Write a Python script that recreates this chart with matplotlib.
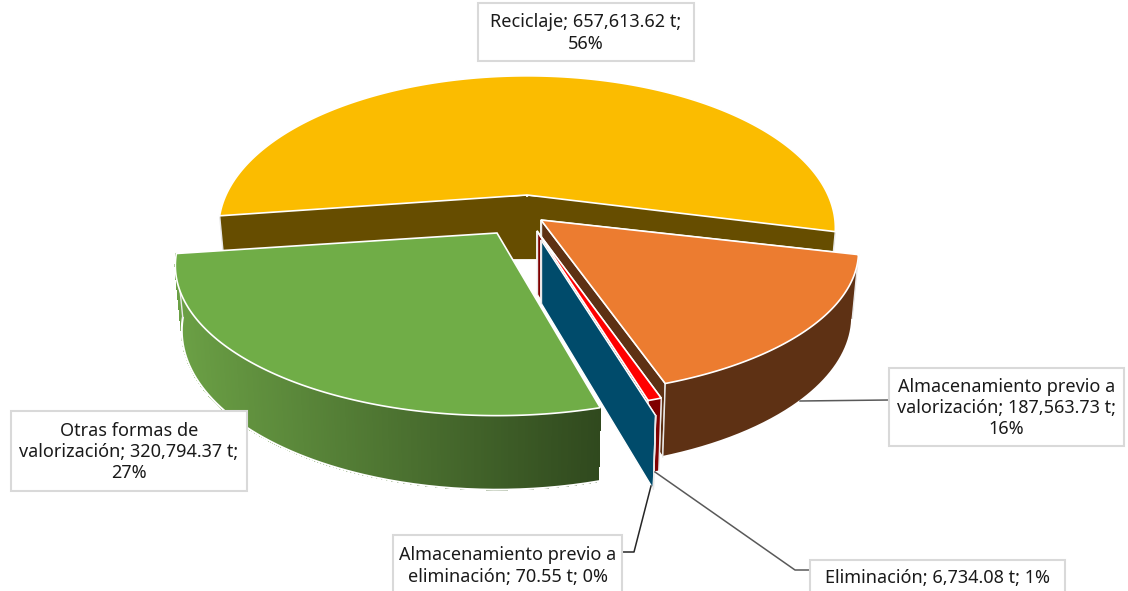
import numpy as np
import matplotlib
matplotlib.use("Agg")
import matplotlib.pyplot as plt
from matplotlib.patches import Polygon, Rectangle
from matplotlib.collections import PolyCollection
from matplotlib.colors import to_rgb

# datos
categorias = ["Reciclaje", "Almacenamiento previo a valorización", "Eliminación",
              "Almacenamiento previo a eliminación", "Otras formas de valorización"]
toneladas = [657613.62, 187563.73, 6734.08, 70.55, 320794.37]

etiquetas = ["Reciclaje; 657,613.62 t;\n56%",
             "Almacenamiento previo a\nvalorización; 187,563.73 t;\n16%",
             "Eliminación; 6,734.08 t; 1%",
             "Almacenamiento previo a\neliminación; 70.55 t; 0%",
             "Otras formas de\nvalorización; 320,794.37 t;\n27%"]

# estilo de cada rebanada
color_tapa = ["#FBBC00", "#EC7C30", "#FF0000", "#004B6B", "#70AD47"]
color_pared = ["#664D00", "#5E3114", "#7F0000", "#004B6B", "#30491E"]
centro_x = [527, 541, 537, 541, 497]
centro_y = [195, 220, 231, 240, 233]
radio_x = [301, 310, 310, 320, 314]
radio_y = [145, 137, 140, 145, 143]
ajuste = [0, 0, 0, 0, 1.4]   # la perspectiva del original no es exacta
caja_x = [478, 889, 810, 393, 11]
caja_y = [3, 368, 560, 535, 411]
caja_w = [216, 235, 255, 229, 236]
caja_h = [58, 78, 34, 60, 80]

inicio = 262.0   # grados desde arriba, sentido horario
persp = 0.217
alto = 63


def proyectar(theta, i):
    t = np.radians(theta)
    u, v = np.sin(t), np.cos(t) * -1
    d = 1 - persp * v
    x = centro_x[i] + radio_x[i] * u / d
    y = centro_y[i] + radio_y[i] * v / d
    return x, y, v


def bajar(x, y, v, i):
    # la pared baja con un poco de convergencia
    return centro_x[i] + (x - centro_x[i]) * 0.98, y + alto / (1 - 0.15 * v)


fig = plt.figure(figsize=(11.28, 5.91), dpi=100)
ax = fig.add_axes([0, 0, 1, 1])
ax.set_xlim(0, 1128)
ax.set_ylim(591, 0)
ax.axis("off")

total = sum(toneladas)
angulos = inicio + np.cumsum([0] + [val / total * 360 for val in toneladas])

for i in range(len(toneladas)):
    a0, a1 = angulos[i] + ajuste[i], angulos[i + 1]
    th = np.linspace(a0, a1, 200)
    x, y, v = proyectar(th, i)
    xb, yb = bajar(x, y, v, i)
    cx, cy = centro_x[i], centro_y[i]
    z = 2 + i

    # paredes de corte (las del verde quedan tapadas)
    if i != 4:
        for j in (0, -1):
            pts = [(cx, cy), (x[j], y[j]), (xb[j], yb[j]), (cx, cy + alto)]
            ax.add_patch(Polygon(pts, closed=True, fc=color_pared[i], ec="white", lw=1.0, zorder=z))
        ax.plot([cx, cx], [cy, cy + alto], color="#E8E8E8", lw=1.0, zorder=z)

    # pared exterior, solo la parte de frente
    m = v > 0.0
    if m.sum() > 1:
        xm, ym, xbm, ybm = x[m], y[m], xb[m], yb[m]
        if i == 4:
            # degradado del verde
            quads = [[(xm[k], ym[k]), (xm[k + 1], ym[k + 1]), (xbm[k + 1], ybm[k + 1]), (xbm[k], ybm[k])]
                     for k in range(len(xm) - 1)]
            f = (xm[:-1] - xm.min()) / (xm.max() - xm.min())
            c0, c1 = np.array(to_rgb("#6BA045")), np.array(to_rgb(color_pared[i]))
            cols = [tuple(c0 + (c1 - c0) * q) for q in f]
            ax.add_collection(PolyCollection(quads, facecolors=cols, edgecolors=cols, linewidths=0.5,
                                             antialiased=False, zorder=z))
        else:
            pts = list(zip(xm, ym)) + list(zip(xbm[::-1], ybm[::-1]))
            ax.add_patch(Polygon(pts, closed=True, fc=color_pared[i], ec="none", zorder=z))
            ax.plot([xm[0], xbm[0]], [ym[0], ybm[0]], color="#E8E8E8", lw=1.0, zorder=z)
        ax.plot(xbm, ybm, color="white", lw=1.5, zorder=z)
        ax.plot([xm[-1], xbm[-1]], [ym[-1], ybm[-1]], color="#E8E8E8", lw=1.0, zorder=z)

    # tapa (la rebanada de 0% casi no se ve)
    if toneladas[i] / total > 0.001:
        pts = [(cx, cy)] + list(zip(x, y))
        ax.add_patch(Polygon(pts, closed=True, fc=color_tapa[i], ec="white", lw=1.2, zorder=z + 0.5))

# lineas guia
guia = "#595959"
ax.plot([800, 889], [401, 400], color=guia, lw=1.1, zorder=10)
ax.plot([655, 795, 810], [472, 570, 570], color=guia, lw=1.1, zorder=10)
ax.plot([651, 634, 622], [486, 552, 552], color="#262626", lw=1.1, zorder=10)

# etiquetas
for i in range(len(etiquetas)):
    ax.add_patch(Rectangle((caja_x[i], caja_y[i]), caja_w[i], caja_h[i], fc="white",
                           ec="#D9D9D9", lw=1.5, zorder=11))
    ax.text(caja_x[i] + caja_w[i] / 2, caja_y[i] + caja_h[i] / 2 + 1, etiquetas[i],
            ha="center", va="center", fontsize=13, color="#1A1A1A",
            family="Noto Sans", linespacing=1.22, zorder=12)

fig.savefig("out.png", dpi=100)
